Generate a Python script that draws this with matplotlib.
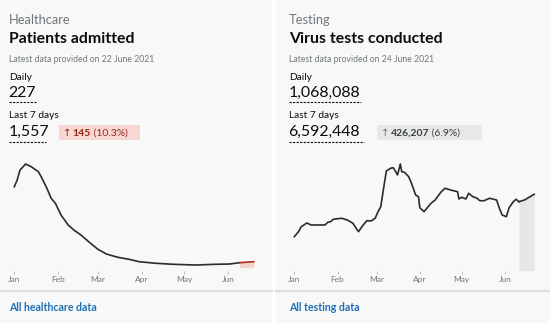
import matplotlib
matplotlib.use("Agg")
from matplotlib import pyplot as plt
from matplotlib.patches import Rectangle
import pandas as pd
import numpy as np

plt.rcParams['font.family'] = ['Lato', 'DejaVu Sans']

# healthcare: patients admitted (7-day average)
hc_dates = ["2021-01-01", "2021-01-03", "2021-01-05", "2021-01-09", "2021-01-13",
            "2021-01-18", "2021-01-20", "2021-01-24", "2021-01-27", "2021-01-30",
            "2021-02-03", "2021-02-08", "2021-02-12", "2021-02-17", "2021-02-23",
            "2021-03-01", "2021-03-07", "2021-03-15", "2021-03-23", "2021-03-30",
            "2021-04-11", "2021-04-23", "2021-05-09", "2021-05-23", "2021-06-02",
            "2021-06-09", "2021-06-19"]
hc_values = [3400, 3680, 4100, 4355, 4240, 4030, 3820, 3335, 2915, 2705,
             2210, 1795, 1585, 1375, 1065, 775, 575, 437, 353, 252,
             185, 143, 113, 143, 155, 210, 252]
hc_recent_start = "2021-06-09"

# testing: virus tests conducted (thousands, 7-day average)
ts_dates = ["2021-01-01", "2021-01-04", "2021-01-06", "2021-01-10", "2021-01-13",
            "2021-01-18", "2021-01-23", "2021-01-25", "2021-01-27", "2021-01-29",
            "2021-02-04", "2021-02-08", "2021-02-12", "2021-02-16", "2021-02-19",
            "2021-02-22", "2021-02-25", "2021-02-28", "2021-03-02", "2021-03-04",
            "2021-03-06", "2021-03-08", "2021-03-11", "2021-03-13", "2021-03-16",
            "2021-03-18", "2021-03-19", "2021-03-21", "2021-03-24", "2021-03-26",
            "2021-03-29", "2021-03-31", "2021-04-01", "2021-04-04", "2021-04-06",
            "2021-04-09", "2021-04-12", "2021-04-16", "2021-04-19", "2021-04-23",
            "2021-04-28", "2021-04-29", "2021-05-01", "2021-05-04", "2021-05-06",
            "2021-05-09", "2021-05-12", "2021-05-14", "2021-05-17", "2021-05-21",
            "2021-05-26", "2021-05-28", "2021-05-30", "2021-06-02", "2021-06-04",
            "2021-06-07", "2021-06-09", "2021-06-11", "2021-06-15", "2021-06-19",
            "2021-06-22"]
ts_values = [476, 546, 616, 668, 640, 640, 640, 678, 686, 720,
             734, 710, 664, 546, 630, 700, 696, 734, 826, 896,
             1154, 1396, 1434, 1442, 1340, 1494, 1386, 1378, 1316, 1224,
             1060, 1036, 882, 826, 874, 944, 990, 1098, 1154, 1130,
             1106, 1004, 1028, 1004, 1084, 1036, 1014, 980, 980, 1014,
             990, 874, 780, 756, 882, 966, 1000, 966, 990, 1036,
             1070]
ts_recent_start = "2021-06-11"

month_ticks = ["2021-01-01", "2021-02-01", "2021-03-01", "2021-04-01", "2021-05-01", "2021-06-01"]
month_labels = ["Jan", "Feb", "Mar", "Apr", "May", "Jun"]

W, H = 550, 323
BLACK = "#0b0c0c"
LINE = "#2a2b2c"
GREY = "#6f777b"
BLUE = "#1d70b8"


def px_axes(fig, x0, y0, x1, y1):
    # pixel box (top-left origin) -> figure fraction axes
    return fig.add_axes([x0 / W, 1 - y1 / H, (x1 - x0) / W, (y1 - y0) / H])


fig = plt.figure(figsize=(5.5, 3.23), dpi=100, facecolor="white")
bg = fig.add_axes([0, 0, 1, 1])
bg.set_xlim(0, W)
bg.set_ylim(H, 0)
bg.axis("off")
bg.add_patch(Rectangle((0, 0), 272, H, color="#f8f8f8", lw=0))
bg.add_patch(Rectangle((276, 0), 274, H, color="#f8f8f8", lw=0))
bg.plot([0, 272], [291, 291], color="#dedede", lw=1.6)
bg.plot([276, 550], [291, 291], color="#dedede", lw=1.6)


def header(x, area, title, date, daily, week, change, pct, under_w, w_under_w, badge, badge_fg, arrow_fg):
    bg.text(x, 20, area, fontsize=9.3, color=GREY, va="center")
    bg.text(x, 39, title, fontsize=11.4, color=BLACK, weight="bold", va="center")
    bg.text(x, 60, "Latest data provided on " + date, fontsize=6.2, color=GREY, va="center")
    bg.text(x, 77.5, "Daily", fontsize=7.3, color=BLACK, va="center")
    bg.text(x - 0.5, 93, daily, fontsize=11.4, color=BLACK, va="center")
    bg.plot([x, x + under_w], [102, 102], color=BLACK, lw=0.8, ls=(0, (2, 1.2)))
    bg.text(x, 116, "Last 7 days", fontsize=7.3, color=BLACK, va="center")
    bg.text(x - 0.5, 132, week, fontsize=11.4, color=BLACK, va="center")
    bg.plot([x, x + w_under_w], [141.5, 141.5], color=BLACK, lw=0.8, ls=(0, (2, 1.2)))
    bx0, bx1 = badge
    bg.add_patch(Rectangle((bx0, 125.3), bx1 - bx0, 15, color=badge_fg[0], lw=0))
    t = bg.text(bx0 + 4, 133, "\u2191", fontsize=7.3, color=arrow_fg, va="center",
                family=["DejaVu Sans"])
    t2 = bg.annotate(change, xycoords=t, xy=(1, 0.5), va="center", fontsize=7.5,
                     color=badge_fg[1], weight="bold", xytext=(1, 0), textcoords="offset points")
    bg.annotate(" (" + pct + ")", xycoords=t2, xy=(1, 0.5), va="center", fontsize=7.5,
                color=badge_fg[1])


header(9, "Healthcare", "Patients admitted", "22 June 2021", "227", "1,557", "145", "10.3%",
       26.5, 36.5, (58.7, 140), ("#f6d7d2", "#942514"), "#942514")
header(289, "Testing", "Virus tests conducted", "24 June 2021", "1,068,088", "6,592,448",
       "426,207", "6.9%", 71.5, 75, (377, 481.7), ("#e8e8e8", "#383f43"), "#6f777b")

bg.text(9, 307.5, "All healthcare data", fontsize=7.6, color=BLUE, weight="bold", va="center")
bg.text(289, 307.5, "All testing data", fontsize=7.6, color=BLUE, weight="bold", va="center")


def chart(ax, dates, values, recent_start, px0, ppd, x0, x1, k, base_px, top_px, recent_line, fill):
    d = pd.to_datetime(dates)
    v = np.array(values, dtype=float)
    jan1 = pd.Timestamp("2021-01-01")
    ax.set_xlim(jan1 + pd.Timedelta(days=(x0 - px0) / ppd), jan1 + pd.Timedelta(days=(x1 - px0) / ppd))
    ax.set_ylim(-(270.5 - base_px) * k, (base_px - top_px) * k)
    rs = pd.Timestamp(recent_start)
    m = d >= rs
    ax.fill_between(d[m], 0, v[m], color=fill, lw=0)
    ax.plot(d[d <= rs], v[d <= rs], color=LINE, lw=1.2, solid_joinstyle="round")
    ax.plot(d[m], v[m], color=recent_line, lw=1.2, solid_joinstyle="round")
    ax.set_xticks(pd.to_datetime(month_ticks))
    ax.set_xticklabels(month_labels)
    ax.set_yticks([])
    ax.tick_params(axis="x", length=2, width=0.6, color="#b1b4b6", pad=2, labelsize=6, labelcolor=GREY)
    for s in ax.spines.values():
        s.set_visible(False)
    ax.patch.set_alpha(0)


ax1 = px_axes(fig, 10, 155, 260, 270.5)
chart(ax1, hc_dates, hc_values, hc_recent_start, 14.3, 1.417, 10, 260, 42, 267.7, 155,
      "#b52a1c", "#f3d1cc")
ax2 = px_axes(fig, 288, 155, 540, 270.5)
chart(ax2, ts_dates, ts_values, ts_recent_start, 294.3, 1.395, 288, 540, 14, 270.7, 155,
      LINE, "#e9e6e3")

fig.savefig("out.png", dpi=100, facecolor="white")
